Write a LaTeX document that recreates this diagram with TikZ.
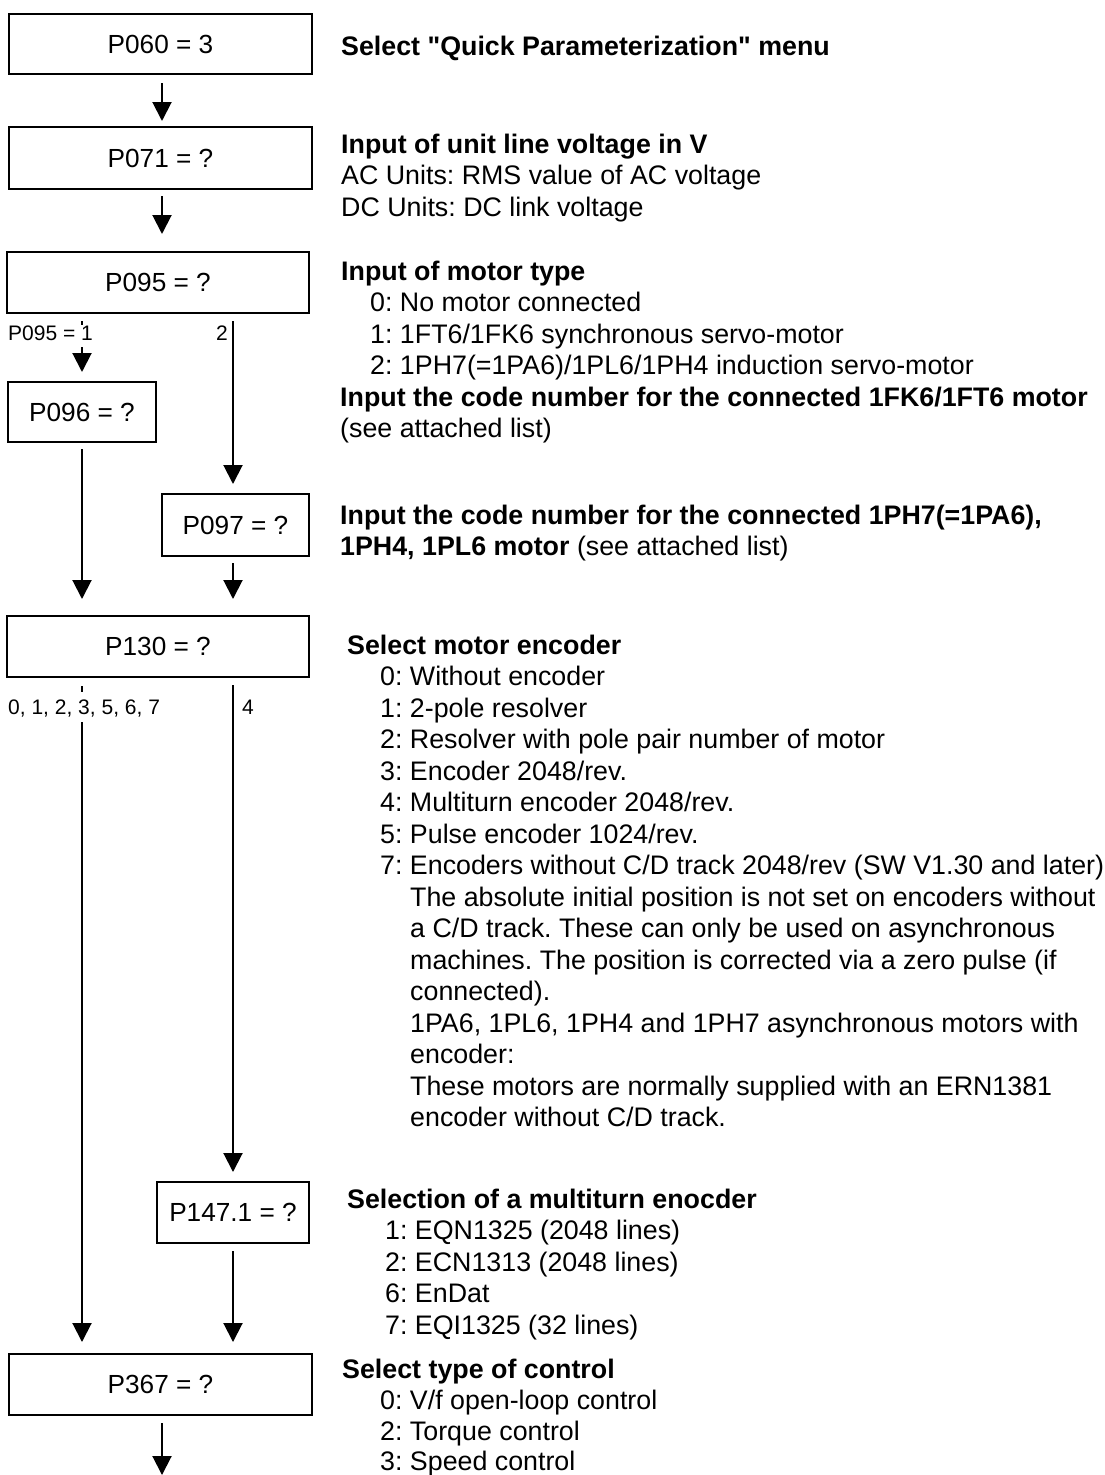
\documentclass[tikz,border=0pt]{standalone}
\usepackage{fontspec}
\setmainfont{Liberation Sans}[Ligatures=TeXOff]
\usetikzlibrary{arrows.meta}
\frenchspacing
\begin{document}
\begin{tikzpicture}[x=1pt,y=-1pt,
  box/.style={draw, line width=2pt, inner sep=0pt, font=\fontsize{26.2}{30}\selectfont},
  conn/.style={line width=2pt, -{Triangle[width=19pt,length=19pt]}},
  desc/.style={anchor=base west, inner sep=0pt, font=\fontsize{26.8}{32}\selectfont},
  hd/.style={desc, font=\fontsize{26.8}{32}\selectfont\bfseries},
  lab/.style={inner sep=0pt, font=\fontsize{21}{25}\selectfont}]
\fill[white] (0,0) rectangle (1104,1475);
\useasboundingbox (0,0) rectangle (1104,1475);

% column coordinates
\coordinate (cm) at (162,0);
\coordinate (cl) at (82,0);
\coordinate (cr) at (233,0);
\coordinate (out) at (162,1475);

% boxes
\node[box, minimum width=303pt, minimum height=60pt] (P060) at (160.5,44) {P060 = 3};
\node[box, minimum width=303pt, minimum height=62pt] (P071) at (160.5,158) {P071 = ?};
\node[box, minimum width=302pt, minimum height=61pt] (P095) at (158,282.5) {P095 = ?};
\node[box, minimum width=148pt, minimum height=60pt] (P096) at (82,412) {P096 = ?};
\node[box, minimum width=147pt, minimum height=62pt] (P097) at (235.5,525) {P097 = ?};
\node[box, minimum width=302pt, minimum height=61pt] (P130) at (158,646.5) {P130 = ?};
\node[box, minimum width=152pt, minimum height=61pt] (P147) at (233,1212.5) {P147.1 = ?};
\node[box, minimum width=303pt, minimum height=61pt] (P367) at (160.5,1384.5) {P367 = ?};

% connectors
\draw[conn, shorten <=8pt, shorten >=5pt] (cm |- P060.south) -- (cm |- P071.north);
\draw[conn, shorten <=6pt, shorten >=17pt] (cm |- P071.south) -- (cm |- P095.north);
\draw[conn, shorten <=7pt, shorten >=9pt] (cl |- P095.south) -- (P096.north);
\draw[conn, shorten <=7pt, shorten >=9pt] (cr |- P095.south) -- (cr |- P097.north);
\draw[conn, shorten <=6pt, shorten >=16pt] (P096.south) -- (cl |- P130.north);
\draw[conn, shorten <=6pt, shorten >=16pt] (cr |- P097.south) -- (cr |- P130.north);
\draw[conn, shorten <=8pt, shorten >=11pt] (cl |- P130.south) -- (cl |- P367.north);
\draw[conn, shorten <=7pt, shorten >=9pt] (cr |- P130.south) -- (cr |- P147.north);
\draw[conn, shorten <=7pt, shorten >=11pt] (cr |- P147.south) -- (cr |- P367.north);
\draw[conn, shorten <=7pt] (cm |- P367.south) -- (out);

% branch labels
\node[lab, anchor=base west, fill=white, text height=15pt, text depth=6pt, inner ysep=0.5pt] (l1) at (8,340.5) {P095 = 1};
\node[lab, anchor=base east] (l2) at (228,340.5) {2};
\node[lab, anchor=base west, fill=white, text height=22pt, text depth=7pt, inner ysep=0.5pt] (l3) at (8,714.5) {0, 1, 2, 3, 5, 6, 7};
\node[lab, anchor=base west] (l4) at (242,714.5) {4};

% descriptions
\node[hd] (t1) at (341,55) {Select "Quick Parameterization" menu};
\node[hd] (t2) at (341,153) {Input of unit line voltage in V};
\node[desc] (t3) at (341,184.5) {AC Units: RMS value of AC voltage};
\node[desc] (t4) at (341,216) {DC Units: DC link voltage};
\node[hd] (t5) at (341,280) {Input of motor type};
\node[desc] (t6) at (370,311.5) {0: No motor connected};
\node[desc] (t7) at (370,343) {1: 1FT6/1FK6 synchronous servo-motor};
\node[desc] (t8) at (370,374.5) {2: 1PH7(=1PA6)/1PL6/1PH4 induction servo-motor};
\node[hd] (t9) at (340,406) {Input the code number for the connected 1FK6/1FT6 motor};
\node[desc] (t10) at (340,437.5) {(see attached list)};
\node[hd] (t11) at (340,524) {Input the code number for the connected 1PH7(=1PA6),};
\node[desc] (t12) at (340,555.5) {\textbf{1PH4, 1PL6 motor} (see attached list)};
\node[hd] (t13) at (347,654) {Select motor encoder};
\node[desc] (t14) at (380,685.5) {0: Without encoder};
\node[desc] (t15) at (380,717) {1: 2-pole resolver};
\node[desc] (t16) at (380,748.5) {2: Resolver with pole pair number of motor};
\node[desc] (t17) at (380,780) {3: Encoder 2048/rev.};
\node[desc] (t18) at (380,811.5) {4: Multiturn encoder 2048/rev.};
\node[desc] (t19) at (380,843) {5: Pulse encoder 1024/rev.};
\node[desc] (t20) at (380,874.5) {7: Encoders without C/D track 2048/rev (SW V1.30 and later)};
\node[desc] (t21) at (410,906) {The absolute initial position is not set on encoders without};
\node[desc] (t22) at (410,937.5) {a C/D track. These can only be used on asynchronous};
\node[desc] (t23) at (410,969) {machines. The position is corrected via a zero pulse (if};
\node[desc] (t24) at (410,1000.5) {connected).};
\node[desc] (t25) at (410,1032) {1PA6, 1PL6, 1PH4 and 1PH7 asynchronous motors with};
\node[desc] (t26) at (410,1063.5) {encoder:};
\node[desc] (t27) at (410,1095) {These motors are normally supplied with an ERN1381};
\node[desc] (t28) at (410,1126.5) {encoder without C/D track.};
\node[hd] (t29) at (347,1208) {Selection of a multiturn enocder};
\node[desc] (t30) at (385,1239.5) {1: EQN1325 (2048 lines)};
\node[desc] (t31) at (385,1271) {2: ECN1313 (2048 lines)};
\node[desc] (t32) at (385,1302.5) {6: EnDat};
\node[desc] (t33) at (385,1334) {7: EQI1325 (32 lines)};
\node[hd] (t34) at (342,1378) {Select type of control};
\node[desc] (t35) at (380,1409.5) {0: V/f open-loop control};
\node[desc] (t36) at (380,1440.5) {2: Torque control};
\node[desc] (t37) at (380,1470.5) {3: Speed control};
\end{tikzpicture}
\end{document}
